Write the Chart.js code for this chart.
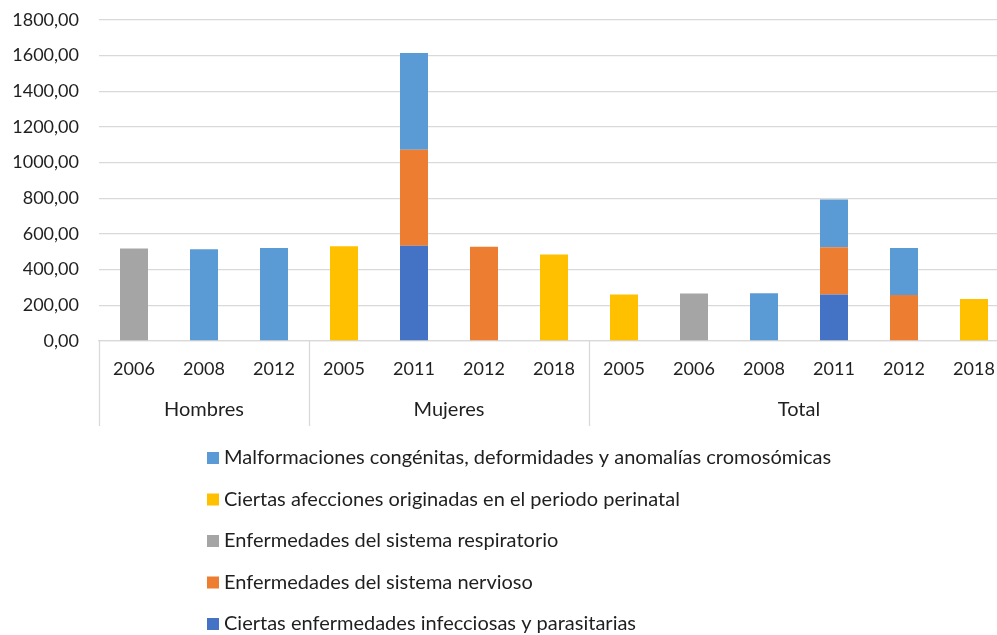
<!DOCTYPE html>
<html lang="es">
<head>
<meta charset="utf-8">
<title>Tasas por causa</title>
<script src="https://cdn.jsdelivr.net/npm/chart.js@4/dist/chart.umd.min.js"></script>
<style>
    html, body { margin: 0; padding: 0; background: #fff; }
    #contenedor { width: 997px; height: 635px; overflow: hidden; position: relative; }
    #causasChart { display: block; }
</style>
</head>
<body>
<div id="contenedor">
    <canvas id="causasChart" width="1010" height="635"></canvas>
</div>
<script>
// Datos del gráfico
const categorias = ['2006', '2008', '2012', '2005', '2011', '2012', '2018', '2005', '2006', '2008', '2011', '2012', '2018'];
const grupos = ['Hombres', 'Mujeres', 'Total'];
const tamanoGrupos = [3, 4, 6];

// Series (de abajo hacia arriba en la pila)
const infecciosas    = [null, null, null, null, 534, null, null, null, null, null, 261, null, null];
const nervioso       = [null, null, null, null, 539, 528, null, null, null, null, 265, 258, null];
const respiratorio   = [519, null, null, null, null, null, null, null, 266, null, null, null, null];
const perinatal      = [null, null, null, 532, null, null, 485, 261, null, null, null, null, 236];
const malformaciones = [null, 515, 521, null, 542, null, null, null, null, 268, 268, 264, null];

const ticksY = [0, 1800, 200]; // min, max, paso

const FUENTE = 'Lato, "Open Sans", sans-serif';
const COLOR_TEXTO = '#1f1f1f';
const COLOR_LINEAS = '#d9d9d9';

document.addEventListener('DOMContentLoaded', function() {
    initCausasChart();
});

// Etiquetas de grupo y separadores del eje de categorías
const gruposPlugin = {
    id: 'grupos',
    afterDraw(chart) {
        const ctx = chart.ctx;
        const x = chart.scales.x;
        const area = chart.chartArea;
        const bordes = [area.left];
        let inicio = 0;
        const centros = [];
        tamanoGrupos.forEach(function(n) {
            const fin = inicio + n - 1;
            const izq = inicio === 0 ? area.left : (x.getPixelForValue(inicio - 1) + x.getPixelForValue(inicio)) / 2;
            const der = fin === categorias.length - 1 ? area.right : (x.getPixelForValue(fin) + x.getPixelForValue(fin + 1)) / 2;
            bordes.push(der);
            centros.push((izq + der) / 2);
            inicio += n;
        });

        ctx.save();
        ctx.strokeStyle = COLOR_LINEAS;
        ctx.lineWidth = 1.3;
        bordes.forEach(function(px) {
            ctx.beginPath();
            ctx.moveTo(Math.round(px) + 0.5, area.bottom);
            ctx.lineTo(Math.round(px) + 0.5, area.bottom + 85);
            ctx.stroke();
        });
        ctx.fillStyle = COLOR_TEXTO;
        ctx.font = '20px ' + FUENTE;
        ctx.textAlign = 'center';
        ctx.textBaseline = 'middle';
        grupos.forEach(function(g, i) {
            ctx.fillText(g, centros[i], area.bottom + 69);
        });
        ctx.restore();
    }
};

// Leyenda vertical (orden inverso al de apilado)
const leyendaPlugin = {
    id: 'leyendaVertical',
    afterDraw(chart) {
        const ctx = chart.ctx;
        const series = chart.data.datasets.slice().reverse();
        ctx.save();
        ctx.font = '20px ' + FUENTE;
        ctx.textBaseline = 'middle';
        ctx.textAlign = 'left';
        series.forEach(function(ds, i) {
            const y = 458 + i * 41.5;
            ctx.fillStyle = ds.backgroundColor;
            ctx.fillRect(207, y - 6, 12, 12);
            ctx.fillStyle = COLOR_TEXTO;
            ctx.fillText(ds.label, 224, y);
        });
        ctx.restore();
    }
};

function initCausasChart() {
    const el = document.getElementById('causasChart');
    if (!el) return;

    const ctx = el.getContext('2d');
    const causasChart = new Chart(ctx, {
        type: 'bar',
        data: {
            labels: categorias,
            datasets: [
                { label: 'Ciertas enfermedades infecciosas y parasitarias', data: infecciosas, backgroundColor: '#4472c4' },
                { label: 'Enfermedades del sistema nervioso', data: nervioso, backgroundColor: '#ed7d31' },
                { label: 'Enfermedades del sistema respiratorio', data: respiratorio, backgroundColor: '#a5a5a5' },
                { label: 'Ciertas afecciones originadas en el periodo perinatal', data: perinatal, backgroundColor: '#ffc000' },
                { label: 'Malformaciones congénitas, deformidades y anomalías cromosómicas', data: malformaciones, backgroundColor: '#5b9bd5' }
            ]
        },
        options: {
            responsive: false,
            animation: false,
            layout: {
                padding: { top: 20, left: 0, right: 1, bottom: 210 }
            },
            datasets: {
                bar: {
                    barPercentage: 0.4,
                    categoryPercentage: 1.0
                }
            },
            scales: {
                x: {
                    stacked: true,
                    grid: { display: false },
                    border: { display: true, color: COLOR_LINEAS, width: 1.3 },
                    ticks: {
                        color: COLOR_TEXTO,
                        font: { family: FUENTE, size: 18 },
                        padding: 9,
                        maxRotation: 0,
                        autoSkip: false
                    },
                    afterFit: function(scale) { scale.height = 84; }
                },
                y: {
                    stacked: true,
                    min: ticksY[0],
                    max: ticksY[1],
                    border: { display: false },
                    // marcas invisibles para separar las etiquetas sin añadir margen arriba
                    grid: { color: COLOR_LINEAS, lineWidth: 1.3, drawTicks: true, tickLength: 20, tickColor: 'rgba(0,0,0,0)' },
                    ticks: {
                        stepSize: ticksY[2],
                        color: COLOR_TEXTO,
                        font: { family: FUENTE, size: 18 },
                        padding: 0,
                        callback: function(v) { return v.toFixed(2).replace('.', ','); }
                    },
                    afterFit: function(scale) { scale.width = 99; }
                }
            },
            plugins: {
                legend: { display: false },
                tooltip: { enabled: false }
            }
        },
        plugins: [gruposPlugin, leyendaPlugin]
    });
}
</script>
</body>
</html>
